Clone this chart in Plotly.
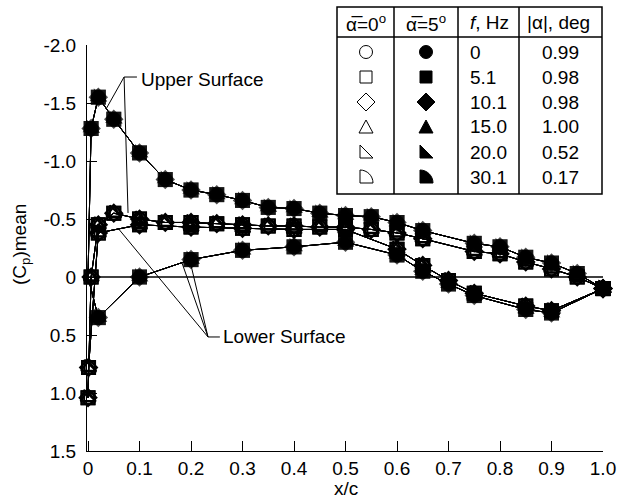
import plotly.graph_objects as go

# ---------------- data ----------------
x_upper = [0.0, 0.006, 0.02, 0.05, 0.10, 0.15, 0.20, 0.25, 0.30, 0.35, 0.40,
           0.45, 0.50, 0.55, 0.60, 0.65, 0.75, 0.80, 0.85, 0.90, 0.95, 1.00]
x_lower = [0.0, 0.001, 0.02, 0.10, 0.20, 0.30, 0.40, 0.50, 0.60, 0.65, 0.70,
           0.75, 0.85, 0.90, 1.00]

cp_a0_upper = [1.04, 0.0, -0.45, -0.55, -0.50, -0.47, -0.47, -0.46, -0.45, -0.44, -0.44,
               -0.43, -0.43, -0.41, -0.38, -0.33, -0.22, -0.20, -0.13, -0.07, 0.0, 0.10]
cp_a0_lower = [1.04, 0.78, -0.38, -0.45, -0.43, -0.42, -0.41, -0.41, -0.24, -0.10, 0.03,
               0.14, 0.25, 0.29, 0.10]
cp_a5_upper = [0.0, -1.28, -1.55, -1.36, -1.07, -0.84, -0.75, -0.71, -0.66, -0.60, -0.59,
               -0.55, -0.53, -0.52, -0.47, -0.40, -0.29, -0.26, -0.17, -0.12, -0.03, 0.10]
cp_a5_lower = [0.0, None, 0.35, 0.0, -0.15, -0.23, -0.26, -0.30, -0.19, -0.05, 0.06,
               0.16, 0.28, 0.31, 0.10]

freq_hz = ["0", "5.1", "10.1", "15.0", "20.0", "30.1"]
amp_deg = ["0.99", "0.98", "0.98", "1.00", "0.52", "0.17"]

x_ticks = [0, 0.1, 0.2, 0.3, 0.4, 0.5, 0.6, 0.7, 0.8, 0.9, 1.0]
x_ticktext = ["0", "0.1", "0.2", "0.3", "0.4", "0.5", "0.6", "0.7", "0.8", "0.9", "1.0"]
y_ticks = [-2.0, -1.5, -1.0, -0.5, 0, 0.5, 1.0, 1.5]
y_ticktext = ["-2.0", "-1.5", "-1.0", "-0.5", "0", "0.5", "1.0", "1.5"]

# ---------------- styling ----------------
FONT = "Liberation Sans, Arial, Helvetica, sans-serif"
FS = 19
W, H = 618, 498
ML, MR, MT, MB = 87, 15, 45, 47
PW, PH = W - ML - MR, H - MT - MB

open_symbols = ["circle-open", "square-open", "diamond-open", "triangle-up-open",
                "triangle-sw-open", "square-open"]
filled_symbols = ["circle", "square", "diamond", "triangle-up", "triangle-sw", "square"]


def loop(xu, cu, xl, cl):
    xs = list(reversed(xu)) + xl[1:]
    ys = list(reversed(cu)) + cl[1:]
    return xs, ys


fig = go.Figure()

x0s, y0s = loop(x_upper, cp_a0_upper, x_lower, cp_a0_lower)
x5s, y5s = loop(x_upper, cp_a5_upper, x_lower, cp_a5_lower)

for i in range(len(freq_hz)):
    fig.add_trace(go.Scatter(
        x=x0s, y=y0s, mode="lines+markers", connectgaps=True, cliponaxis=False,
        line=dict(color="black", width=1),
        marker=dict(symbol=open_symbols[i], size=13, color="black",
                    line=dict(color="black", width=2)),
        name=f"α=0, f={freq_hz[i]} Hz", showlegend=False))

for i in range(len(freq_hz)):
    sizes = [0 if (xx == 0.0 and yy == 0.0) else 15 for xx, yy in zip(x5s, y5s)]
    fig.add_trace(go.Scatter(
        x=x5s, y=y5s, mode="lines+markers", connectgaps=True, cliponaxis=False,
        line=dict(color="black", width=1),
        marker=dict(symbol=filled_symbols[i], size=sizes, color="black",
                    line=dict(color="black", width=0)),
        name=f"α=5, f={freq_hz[i]} Hz", showlegend=False))


def PX(px):
    return (px - ML) / PW


def PY(py):
    return (H - MB - py) / PH


shapes = []
annotations = []

# zero line
shapes.append(dict(type="line", xref="x", yref="y", x0=0, x1=1.0, y0=0, y1=0,
                   line=dict(color="black", width=1.5), layer="below"))

# Upper Surface leader lines
ju = (0.070, -1.724)
for tx, ty in [(0.035, -1.448), (0.0777, -0.552)]:
    shapes.append(dict(type="line", xref="x", yref="y", x0=ju[0], y0=ju[1], x1=tx, y1=ty,
                       line=dict(color="black", width=1)))
shapes.append(dict(type="line", xref="x", yref="y", x0=ju[0], y0=ju[1], x1=0.095, y1=ju[1],
                   line=dict(color="black", width=1)))
annotations.append(dict(x=0.099, y=-1.70, xref="x", yref="y", text="Upper Surface",
                        showarrow=False, xanchor="left", yanchor="middle",
                        font=dict(family=FONT, size=FS, color="black")))

# Lower Surface leader lines
jl = (0.233, 0.517)
for tx, ty in [(0.058, -0.422), (0.1825, -0.121), (0.198, -0.138)]:
    shapes.append(dict(type="line", xref="x", yref="y", x0=jl[0], y0=jl[1], x1=tx, y1=ty,
                       line=dict(color="black", width=1)))
shapes.append(dict(type="line", xref="x", yref="y", x0=jl[0], y0=jl[1], x1=0.256, y1=jl[1],
                   line=dict(color="black", width=1)))
annotations.append(dict(x=0.259, y=0.517, xref="x", yref="y", text="Lower Surface",
                        showarrow=False, xanchor="left", yanchor="middle",
                        font=dict(family=FONT, size=FS, color="black")))

# ---------------- legend table ----------------
TL, TR, TT, TB = 337, 602, 7, 194
HDR = 37
COLS = [394, 458, 519]
tl = dict(color="black", width=1.5)
shapes.append(dict(type="rect", xref="paper", yref="paper", x0=PX(TL), x1=PX(TR),
                   y0=PY(TB), y1=PY(TT), line=tl, fillcolor="white", layer="below"))
shapes.append(dict(type="line", xref="paper", yref="paper", x0=PX(TL), x1=PX(TR),
                   y0=PY(HDR), y1=PY(HDR), line=tl))
for c in COLS:
    shapes.append(dict(type="line", xref="paper", yref="paper", x0=PX(c), x1=PX(c),
                       y0=PY(TB), y1=PY(TT), line=tl))

headers = [("α̅=0<sup>o</sup>", 366, "center"), ("α̅=5<sup>o</sup>", 426, "center"),
           ("<i>f</i>, Hz", 468, "left"), ("|α|, deg", 558, "center")]
for txt, px, anc in headers:
    annotations.append(dict(x=PX(px), y=PY(23), xref="paper", yref="paper", text=txt,
                            showarrow=False, xanchor=anc, yanchor="middle",
                            font=dict(family=FONT, size=FS, color="black")))

row_y = [52 + 25 * i for i in range(6)]
for i in range(6):
    annotations.append(dict(x=PX(468), y=PY(row_y[i]), xref="paper", yref="paper",
                            text=freq_hz[i], showarrow=False, xanchor="left", yanchor="middle",
                            font=dict(family=FONT, size=FS, color="black")))
    annotations.append(dict(x=PX(560), y=PY(row_y[i]), xref="paper", yref="paper",
                            text=amp_deg[i], showarrow=False, xanchor="center", yanchor="middle",
                            font=dict(family=FONT, size=FS, color="black")))

icon_paths = [
    None,  # circle
    None,  # square
    "M0,9 L9,0 L0,-9 L-9,0 Z",
    "M-7,-6 L7,-6 L0,7 Z",
    "M-6,-6 L7,-6 L-6,7 Z",
    "M-6,-6 L-6,7 C1.2,7 7,1.2 7,-6 Z",
]
for i in range(6):
    for cx, filled in [(366, False), (426, True)]:
        base = dict(xref="paper", yref="paper", xsizemode="pixel", ysizemode="pixel",
                    xanchor=PX(cx), yanchor=PY(row_y[i]),
                    line=dict(color="black", width=1),
                    fillcolor="black" if filled else "white")
        if i == 0:
            base.update(type="circle", x0=-6.5, x1=6.5, y0=-6.5, y1=6.5)
        elif i == 1:
            base.update(type="rect", x0=-6, x1=6, y0=-6, y1=6)
        else:
            base.update(type="path", path=icon_paths[i])
        shapes.append(base)

# axis titles
annotations.append(dict(x=PX(21), y=PY(245), xref="paper", yref="paper",
                        text="(C<sub>p</sub>)mean", textangle=-90, showarrow=False,
                        xanchor="center", yanchor="middle",
                        font=dict(family=FONT, size=FS, color="black")))
annotations.append(dict(x=PX(346), y=PY(488), xref="paper", yref="paper",
                        text="x/c", showarrow=False, xanchor="center", yanchor="middle",
                        font=dict(family=FONT, size=FS, color="black")))

fig.update_layout(
    width=W, height=H,
    margin=dict(l=ML, r=MR, t=MT, b=MB, pad=0, autoexpand=False),
    paper_bgcolor="white", plot_bgcolor="white",
    showlegend=False,
    font=dict(family=FONT, size=FS, color="black"),
    shapes=shapes, annotations=annotations,
    xaxis=dict(range=[-0.002, 1.0], tickmode="array", tickvals=x_ticks, ticktext=x_ticktext,
               ticks="inside", ticklen=10, tickwidth=1, tickcolor="black",
               showline=True, linecolor="black", linewidth=1, mirror=False,
               showgrid=False, zeroline=False, automargin=False,
               tickfont=dict(family=FONT, size=FS, color="black")),
    yaxis=dict(range=[1.5, -2.0], tickmode="array", tickvals=y_ticks, ticktext=y_ticktext,
               ticks="inside", ticklen=10, tickwidth=1, tickcolor="black",
               showline=True, linecolor="black", linewidth=1, mirror=False,
               showgrid=False, zeroline=False, ticklabelstandoff=6, automargin=False,
               tickfont=dict(family=FONT, size=FS, color="black")),
)

fig.write_html("out.html", config={"displayModeBar": False},
               post_script="document.body.style.margin='0';document.body.style.padding='0';")
